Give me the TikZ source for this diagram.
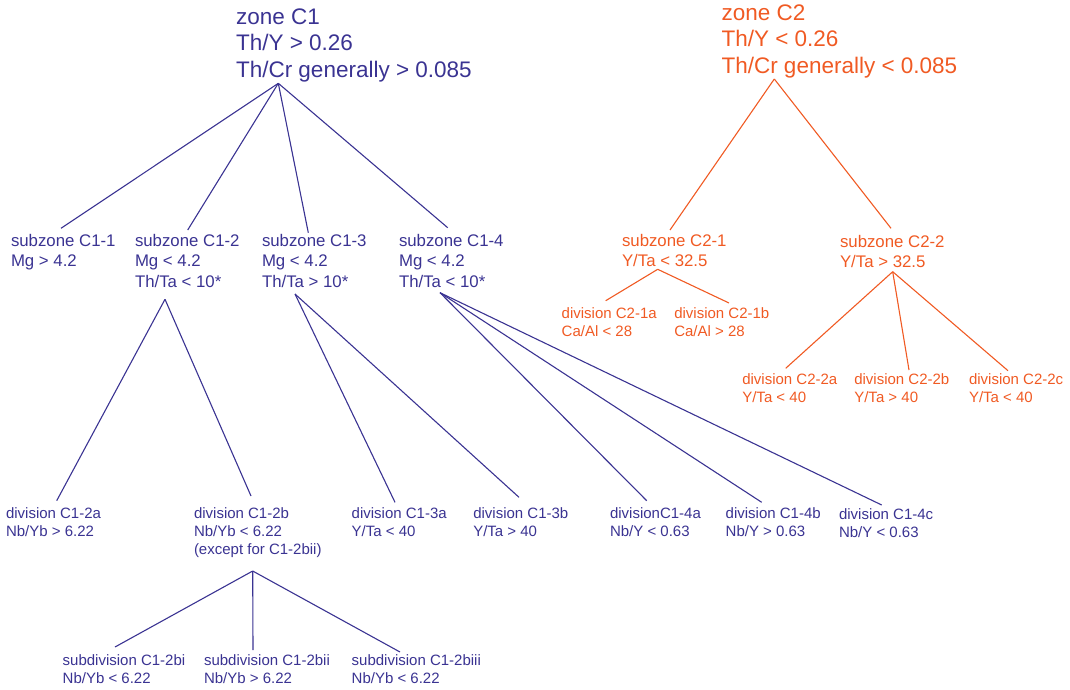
\documentclass[tikz,border=0pt]{standalone}
\usepackage{fontspec}
\setmainfont{Liberation Sans}
\definecolor{cone}{HTML}{3A3392}
\definecolor{ctwo}{HTML}{F05A23}
\tikzset{
  lbl/.style={anchor=north west, inner sep=0pt, outer sep=0pt, align=left},
  zonetxt/.style={lbl, font=\fontsize{22.5}{26.5}\selectfont},
  subtxt/.style={lbl, font=\fontsize{16.8}{20.3}\selectfont},
  divtxt/.style={lbl, font=\fontsize{15}{18}\selectfont},
  bl/.style={text=cone},
  or/.style={text=ctwo},
  lnb/.style={draw=cone, line width=1.1pt},
  lno/.style={draw=ctwo, line width=1.1pt},
}
\begin{document}
\begin{tikzpicture}[x=1pt,y=-1pt]
\useasboundingbox (0,0) rectangle (1070,690);

% zones
\node[zonetxt,bl] (z1) at (236,8.7) {zone C1\\Th/Y > 0.26\\Th/Cr generally > 0.085};
\node[zonetxt,or] (z2) at (721.5,4.7) {zone C2\\Th/Y < 0.26\\Th/Cr generally < 0.085};

% subzones
\node[subtxt,bl] (s11) at (11,234.3) {subzone C1-1\\Mg > 4.2};
\node[subtxt,bl] (s12) at (135,234.3) {subzone C1-2\\Mg < 4.2\\Th/Ta < 10*};
\node[subtxt,bl] (s13) at (262,234.3) {subzone C1-3\\Mg < 4.2\\Th/Ta > 10*};
\node[subtxt,bl] (s14) at (399,234.3) {subzone C1-4\\Mg < 4.2\\Th/Ta < 10*};
\node[subtxt,or] (s21) at (622,234.5) {subzone C2-1\\Y/Ta < 32.5};
\node[subtxt,or] (s22) at (840,235.3) {subzone C2-2\\Y/Ta > 32.5};

% divisions C1
\node[divtxt,bl] (d12a) at (6,508.1) {division C1-2a\\Nb/Yb > 6.22};
\node[divtxt,bl] (d12b) at (194,508.1) {division C1-2b\\Nb/Yb < 6.22\\(except for C1-2bii)};
\node[divtxt,bl] (d13a) at (351.7,508.1) {division C1-3a\\Y/Ta < 40};
\node[divtxt,bl] (d13b) at (473.3,508.1) {division C1-3b\\Y/Ta > 40};
\node[divtxt,bl] (d14a) at (610,507.4) {divisionC1-4a\\Nb/Y < 0.63};
\node[divtxt,bl] (d14b) at (725.7,507.4) {division C1-4b\\Nb/Y > 0.63};
\node[divtxt,bl] (d14c) at (839,508.4) {division C1-4c\\Nb/Y < 0.63};

% divisions C2
\node[divtxt,or] (d21a) at (561.7,307.4) {division C2-1a\\Ca/Al < 28};
\node[divtxt,or] (d21b) at (674.3,307.4) {division C2-1b\\Ca/Al > 28};
\node[divtxt,or] (d22a) at (742.3,374.1) {division C2-2a\\Y/Ta < 40};
\node[divtxt,or] (d22b) at (854.3,374.1) {division C2-2b\\Y/Ta > 40};
\node[divtxt,or] (d22c) at (969,374.1) {division C2-2c\\Y/Ta < 40};

% subdivisions
\node[divtxt,bl] (sd1) at (62.7,655.1) {subdivision C1-2bi\\Nb/Yb < 6.22};
\node[divtxt,bl] (sd2) at (204,655.1) {subdivision C1-2bii\\Nb/Yb > 6.22};
\node[divtxt,bl] (sd3) at (351.7,655.1) {subdivision C1-2biii\\Nb/Yb < 6.22};

% connector points
\coordinate (z1b) at (278.3,83.3);
\coordinate (z2b) at (774.3,79);
\coordinate (s11t) at (61,228.3);
\coordinate (s12t) at (187.7,230);
\coordinate (s13t) at (308.3,232.7);
\coordinate (s14t) at (447.7,227.7);
\coordinate (s21t) at (670,230);
\coordinate (s22t) at (891,228.3);
\coordinate (s12b) at (165,299.3);
\coordinate (s13b) at (295,294);
\coordinate (s14b) at (440,292.7);
\coordinate (s21b) at (657.7,269.3);
\coordinate (s22b) at (892.7,271.7);
\coordinate (d12at) at (56.7,500.7);
\coordinate (d12bt) at (251,496);
\coordinate (d13at) at (395,502.3);
\coordinate (d13bt) at (519,497.3);
\coordinate (d14at) at (646.7,500.7);
\coordinate (d14bt) at (761.7,502.3);
\coordinate (d14ct) at (881.7,505);
\coordinate (d21at) at (605.7,300.7);
\coordinate (d21bt) at (729,303);
\coordinate (d22at) at (785.7,368.3);
\coordinate (d22bt) at (909,370);
\coordinate (d22ct) at (1008,370.7);
\coordinate (d12bb) at (252.7,571);
\coordinate (sd1t) at (115,647);
\coordinate (sd2t) at (253,650);
\coordinate (sd3t) at (400,652);

% connectors C1
\draw[lnb] (z1b) -- (s11t);
\draw[lnb] (z1b) -- (s12t);
\draw[lnb] (z1b) -- (s13t);
\draw[lnb] (z1b) -- (s14t);
\draw[lnb] (s12b) -- (d12at);
\draw[lnb] (s12b) -- (d12bt);
\draw[lnb] (s13b) -- (d13at);
\draw[lnb] (s13b) -- (d13bt);
\draw[lnb] (s14b) -- (d14at);
\draw[lnb] (s14b) -- (d14bt);
\draw[lnb] (s14b) -- (d14ct);
\draw[lnb] (d12bb) -- (sd1t);
\draw[lnb] (d12bb) -- (sd2t);
\draw[lnb] (d12bb) -- (sd3t);

% connectors C2
\draw[lno] (z2b) -- (s21t);
\draw[lno] (z2b) -- (s22t);
\draw[lno] (s21b) -- (d21at);
\draw[lno] (s21b) -- (d21bt);
\draw[lno] (s22b) -- (d22at);
\draw[lno] (s22b) -- (d22bt);
\draw[lno] (s22b) -- (d22ct);
\end{tikzpicture}
\end{document}
